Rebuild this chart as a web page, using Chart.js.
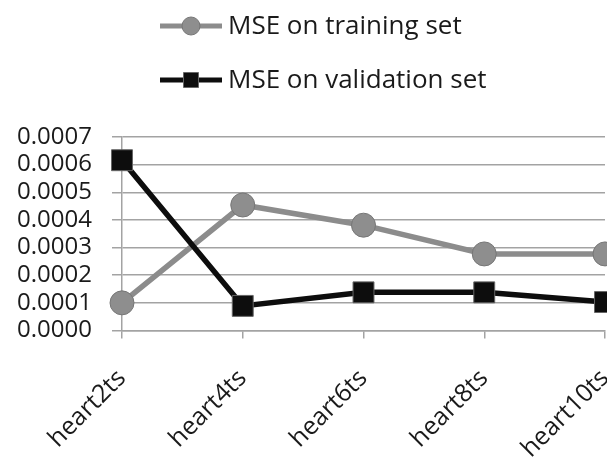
<!DOCTYPE html>
<html>
<head>
<meta charset="utf-8">
<script src="https://cdn.jsdelivr.net/npm/chart.js@4.4.1/dist/chart.umd.min.js"></script>
<style>
  html, body { margin: 0; padding: 0; background: #ffffff; }
  #wrap { width: 607px; height: 471px; position: relative; }
</style>
</head>
<body>
<div id="wrap"><canvas id="c" width="607" height="471"></canvas></div>
<script>
const categories = ['heart2ts', 'heart4ts', 'heart6ts', 'heart8ts', 'heart10ts'];
const trainingMSE = [0.000100, 0.000454, 0.000381, 0.000277, 0.000277];
const validationMSE = [0.000616, 0.000089, 0.000138, 0.000138, 0.000103];
const seriesNames = ['MSE on training set', 'MSE on validation set'];
const yTickMin = 0;
const yTickMax = 0.0007;
const yTickStep = 0.0001;

const FONT = '"Open Sans", "Noto Sans", sans-serif';
const TEXT = '#1a1a1a';
const GRID = '#a3a3a3';

const stackedLegend = {
  id: 'stackedLegend',
  afterDraw(chart) {
    const ctx = chart.ctx;
    const x0 = 160, x1 = 222, textX = 228;
    const rows = [26, 80];
    ctx.save();
    chart.data.datasets.forEach((ds, i) => {
      const y = rows[i];
      const cx = (x0 + x1) / 2;
      ctx.strokeStyle = ds.borderColor;
      ctx.lineWidth = 5;
      ctx.lineCap = 'butt';
      ctx.beginPath();
      ctx.moveTo(x0, y);
      ctx.lineTo(x1, y);
      ctx.stroke();
      ctx.fillStyle = ds.pointBackgroundColor;
      ctx.strokeStyle = ds.pointBorderColor;
      ctx.lineWidth = 1;
      ctx.beginPath();
      if (ds.pointStyle === 'rect') {
        ctx.rect(cx - 7.5, y - 7.5, 15, 15);
      } else {
        ctx.arc(cx, y, 9, 0, Math.PI * 2);
      }
      ctx.fill();
      ctx.stroke();
      ctx.fillStyle = TEXT;
      ctx.font = '26px ' + FONT;
      ctx.textAlign = 'left';
      ctx.textBaseline = 'middle';
      ctx.fillText(ds.label, textX, y + 1);
    });
    ctx.restore();
  }
};

new Chart(document.getElementById('c'), {
  type: 'line',
  data: {
    labels: categories,
    datasets: [
      {
        label: seriesNames[0],
        data: trainingMSE,
        borderColor: '#8c8c8c',
        borderWidth: 5.5,
        pointStyle: 'circle',
        pointRadius: 12,
        pointHoverRadius: 12,
        pointBackgroundColor: '#8e8e8e',
        pointBorderColor: '#767676',
        pointBorderWidth: 1,
        tension: 0,
        clip: false,
        order: 2
      },
      {
        label: seriesNames[1],
        data: validationMSE,
        borderColor: '#0d0d0d',
        borderWidth: 5.5,
        pointStyle: 'rect',
        pointRadius: 14.8,
        pointHoverRadius: 14.8,
        pointBackgroundColor: '#0d0d0d',
        pointBorderColor: '#666666',
        pointBorderWidth: 1,
        tension: 0,
        clip: false,
        order: 1
      }
    ]
  },
  options: {
    responsive: false,
    animation: false,
    devicePixelRatio: 1,
    layout: { autoPadding: false, padding: { top: 137, right: 2, left: 0, bottom: 0 } },
    plugins: {
      legend: { display: false },
      tooltip: { enabled: false },
      title: { display: false }
    },
    scales: {
      x: {
        type: 'category',
        offset: false,
        grid: {
          display: true,
          drawOnChartArea: false,
          drawTicks: true,
          tickLength: 8,
          color: GRID,
          lineWidth: 1.5
        },
        border: { display: true, color: GRID, width: 1.5 },
        ticks: {
          minRotation: 45,
          maxRotation: 45,
          autoSkip: false,
          padding: 26,
          color: TEXT,
          font: { family: FONT, size: 25, lineHeight: 1.1 }
        },
        afterFit(scale) {
          scale.height = 140.5;
          scale.paddingRight = 0;
        }
      },
      y: {
        min: yTickMin,
        max: yTickMax,
        grid: {
          display: true,
          drawOnChartArea: true,
          drawTicks: true,
          tickLength: 10,
          color: GRID,
          lineWidth: 1.5
        },
        border: { display: true, color: GRID, width: 1.5 },
        ticks: {
          stepSize: yTickStep,
          autoSkip: false,
          padding: 20,
          color: TEXT,
          font: { family: FONT, size: 24 },
          callback: (v) => Number(v).toFixed(4)
        },
        afterFit(scale) {
          scale.width = 122;
        }
      }
    }
  },
  plugins: [stackedLegend]
});
</script>
</body>
</html>
